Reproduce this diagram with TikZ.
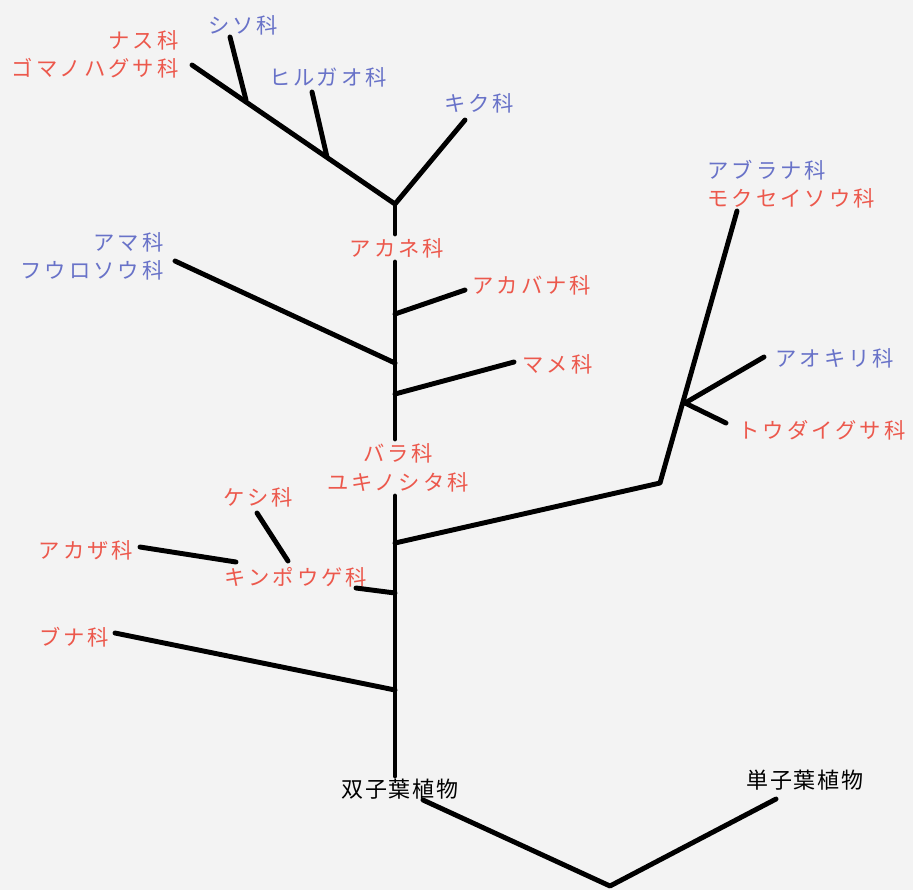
\documentclass[tikz,border=0pt]{standalone}
\usepackage{fontspec}
\newfontfamily\jp[LetterSpace=14]{Noto Sans CJK JP}
\newfontfamily\jpb[LetterSpace=8]{Noto Sans CJK JP}
\definecolor{bg}{RGB}{243,243,243}
\definecolor{fred}{RGB}{236,88,76}
\definecolor{fblue}{RGB}{104,114,200}
\begin{document}
\begin{tikzpicture}[x=0.75pt,y=-0.75pt,
  branch/.style={line width=3.7pt,line cap=round,line join=round,black},
  lab/.style={font=\jp\fontsize{16pt}{16pt}\selectfont,inner sep=1pt},
  red/.style={lab,text=fred},
  blue/.style={lab,text=fblue},
  blk/.style={font=\jpb\fontsize{16.5pt}{16.5pt}\selectfont,inner sep=2pt,text=black}]
\fill[bg] (0,0) rectangle (913,890);
\useasboundingbox (0,0) rectangle (913,890);
% labels
\node[red,anchor=east] (nasu) at (180,40) {ナス科};
\node[red,anchor=east] (goma) at (180,68) {ゴマノハグサ科};
\node[blue] (shiso) at (243,25) {シソ科};
\node[blue] (hiru) at (328,77) {ヒルガオ科};
\node[blue] (kiku) at (479,103) {キク科};
\node[blue,anchor=east] (ama) at (165,242) {アマ科};
\node[blue,anchor=east] (fuuro) at (165,270) {フウロソウ科};
\node[red,inner sep=3pt] (akane) at (397,248) {アカネ科};
\node[red,anchor=west] (akaba) at (471,285) {アカバナ科};
\node[red,anchor=west] (mame) at (521,364) {マメ科};
\node[red,inner sep=3pt] (bara) at (398,453) {バラ科};
\node[red,inner sep=3pt] (yuki) at (398,482) {ユキノシタ科};
\node[blue,anchor=west] (abura) at (706,170) {アブラナ科};
\node[red,anchor=west] (mokusei) at (706,198) {モクセイソウ科};
\node[blue,anchor=west] (aogiri) at (774,358) {アオキリ科};
\node[red,anchor=west] (toudai) at (737,430) {トウダイグサ科};
\node[red] (keshi) at (258,497) {ケシ科};
\node[red] (akaza) at (86,550) {アカザ科};
\node[red] (kinpou) at (296,577) {キンポウゲ科};
\node[red] (buna) at (74,637) {ブナ科};
\node[blk] (dicot) at (400,789) {双子葉植物};
\node[blk] (monocot) at (805,780) {単子葉植物};
% junction coordinates
\coordinate (fork) at (395,204);
\coordinate (gomaend) at (192,65);
\coordinate (shisoj) at (246,100);
\coordinate (shisoend) at (230,37);
\coordinate (hiruj) at (327,157);
\coordinate (hiruend) at (312,92);
\coordinate (kikuend) at (465,120);
\coordinate (amaj) at (395,363);
\coordinate (amaend) at (175,261);
\coordinate (akabaj) at (395,314);
\coordinate (akabaend) at (465,290);
\coordinate (mamej) at (395,394);
\coordinate (mameend) at (514,362);
\coordinate (rightj) at (395,543);
\coordinate (corner) at (660,483);
\coordinate (rosj) at (685,403);
\coordinate (top) at (737,211);
\coordinate (aogiriend) at (764,357);
\coordinate (toudaiend) at (726,423);
\coordinate (kinpouj) at (395,593);
\coordinate (kinpouend) at (356,588);
\coordinate (keshiend) at (257,513);
\coordinate (keshij) at (288,561);
\coordinate (akazaend) at (140,547);
\coordinate (akazaj) at (236,562);
\coordinate (bunaj) at (395,690);
\coordinate (bunaend) at (115,633);
\coordinate (dicotend) at (423,800);
\coordinate (base) at (610,886);
\coordinate (monoend) at (776,799);
% branches
\draw[branch] (gomaend) -- (fork) -- (kikuend);
\draw[branch] (shisoend) -- (shisoj);
\draw[branch] (hiruend) -- (hiruj);
\draw[branch] (fork) -- (akane.north -| fork);
\draw[branch] (akane.south -| fork) -- (bara.north -| fork);
\draw[branch] (yuki.south -| fork) -- (dicot.north -| fork);
\draw[branch] (amaend) -- (amaj);
\draw[branch] (akabaj) -- (akabaend);
\draw[branch] (mamej) -- (mameend);
\draw[branch] (rightj) -- (corner) -- (top);
\draw[branch] (rosj) -- (aogiriend);
\draw[branch] (rosj) -- (toudaiend);
\draw[branch] (kinpouend) -- (kinpouj);
\draw[branch] (keshiend) -- (keshij);
\draw[branch] (akazaend) -- (akazaj);
\draw[branch] (bunaend) -- (bunaj);
\draw[branch] (dicotend) -- (base) -- (monoend);
\end{tikzpicture}
\end{document}
